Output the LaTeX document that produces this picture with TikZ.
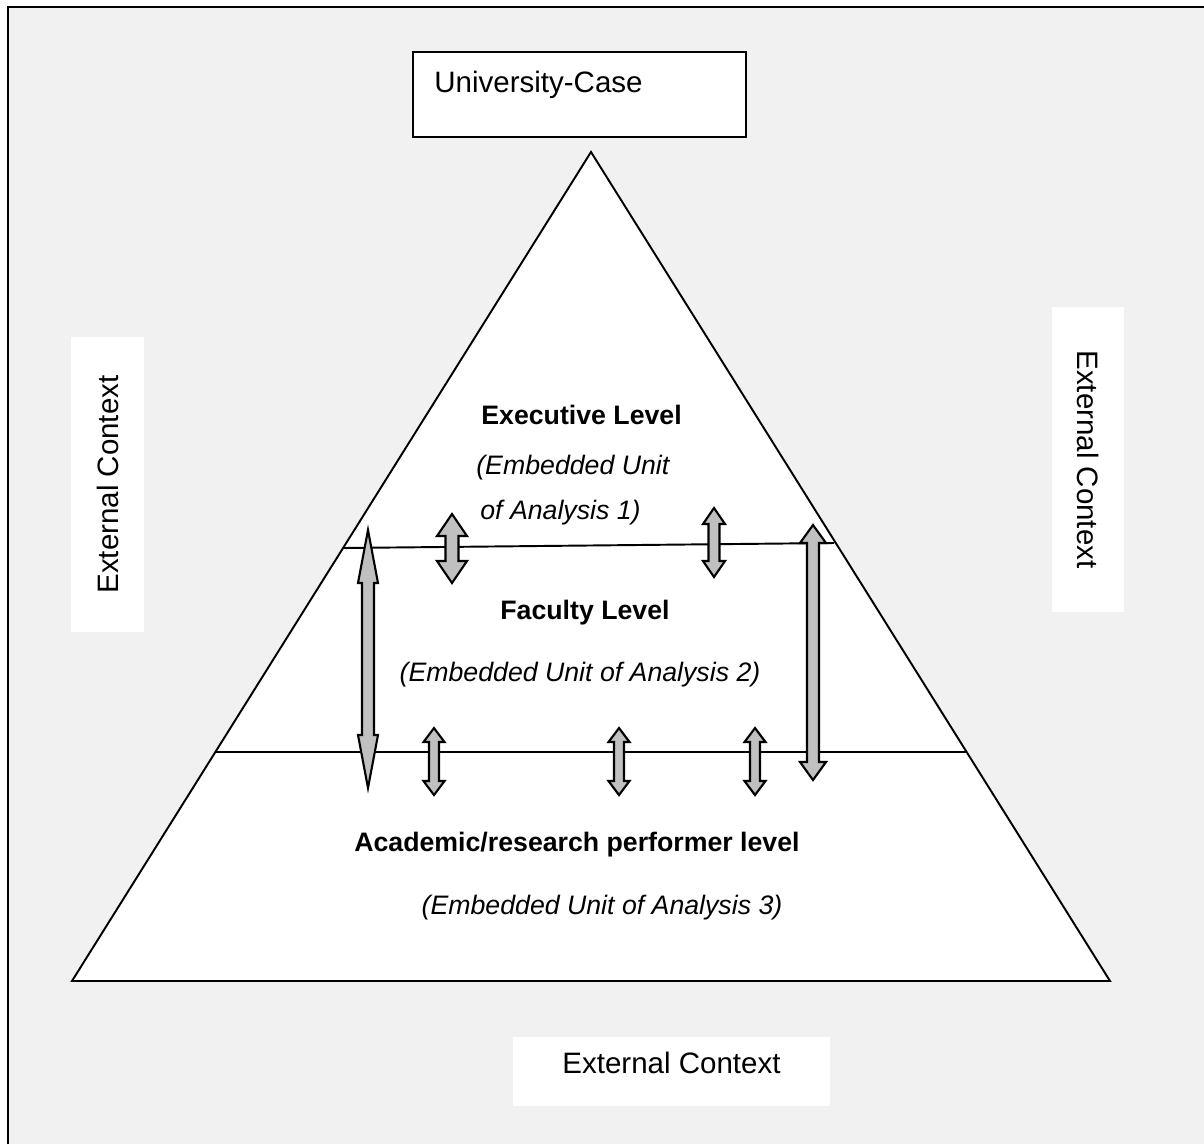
\documentclass[tikz,border=0pt]{standalone}
\usepackage{fontspec}
\setmainfont{Liberation Sans}
\usepackage{tikz}

\definecolor{pagegray}{HTML}{F1F1F1}
\definecolor{arrowgray}{HTML}{C0C0C0}

% two-way block arrow: x, top tip, bottom tip, half head width, head length, half shaft width
\newcommand{\twowayarrow}[6]{%
  \draw[blockarrow] (#1,#2) -- (#1+#4,#2+#5) -- (#1+#6,#2+#5) -- (#1+#6,#3-#5)
    -- (#1+#4,#3-#5) -- (#1,#3) -- (#1-#4,#3-#5) -- (#1-#6,#3-#5)
    -- (#1-#6,#2+#5) -- (#1-#4,#2+#5) -- cycle;}

\begin{document}
\begin{tikzpicture} [x=0.02cm, y=-0.02cm,
    level/.style = {font=\fontsize{15.2}{18}\selectfont\bfseries},
    unit/.style = {font=\fontsize{15.2}{18}\selectfont\itshape},
    context/.style = {fill=white,
      inner sep=0pt},
    plain/.style = {font=\fontsize{16.8}{20}\selectfont},
    blockarrow/.style = {draw, line width=1.2pt, fill=arrowgray, line join=miter},
    edge/.style = {draw, line width=1.1pt}]

\useasboundingbox (0,0) rectangle (1204,1144);
\fill[pagegray] (8,7) rectangle (1204,1144);
\draw[line width=1.2pt] (8,1144) -- (8,7) -- (1204,7);

% case box
\node (case) [draw, fill=white, line width=0.9pt, minimum width=6.66cm, minimum height=1.7cm] at (579.5,94.5) {};
\node (casetext) [plain, anchor=base west, inner sep=0pt] at (434,92) {University-Case};

% pyramid
\coordinate (apex) at (591,152);
\coordinate (bl) at (72,981);
\coordinate (br) at (1110,981);
\draw[edge, fill=white] (apex) -- (bl) -- (br) -- cycle;
\coordinate (upl) at (343,548);
\coordinate (upr) at (834,543);
\coordinate (lowl) at (215,752);
\coordinate (lowr) at (967,752);
\draw[edge] (upl) -- (upr);
\draw[edge] (lowl) -- (lowr);

% level texts
\node (exec) [level, anchor=base west, inner sep=0pt] at (481,424) {Executive Level};
\node (execu1) [unit, anchor=base west, inner sep=0pt] at (476,474) {(Embedded Unit};
\node (execu2) [unit, anchor=base west, inner sep=0pt] at (480,519) {of Analysis 1)};
\node (fac) [level, anchor=base, inner sep=0pt] at (585,619) {Faculty Level};
\node (facu) [unit, anchor=base, inner sep=0pt] at (580,681) {(Embedded Unit of Analysis 2)};
\node (acad) [level, anchor=base, inner sep=0pt] at (577,851) {Academic/research performer level};
\node (acadu) [unit, anchor=base, inner sep=0pt] at (602,914) {(Embedded Unit of Analysis 3)};

% arrows between levels
\twowayarrow{368}{530}{788}{10}{53}{6}
\twowayarrow{452}{514}{583}{15}{22}{6.5}
\twowayarrow{714}{508}{577}{11}{16}{5.5}
\twowayarrow{813}{525}{780}{13}{18}{6}
\twowayarrow{434}{728}{795}{10.5}{14}{5}
\twowayarrow{619}{728}{795}{10.5}{14}{5}
\twowayarrow{755}{728}{795}{10.5}{14}{5}

% external context
\node (ctxleft) [context, minimum width=1.46cm, minimum height=5.9cm] at (107.5,484.5) {};
\node (ctxlefttext) [plain, rotate=90] at (ctxleft) {External Context};
\node (ctxright) [context, minimum width=1.44cm, minimum height=6.1cm] at (1088,459.5) {};
\node (ctxrighttext) [plain, rotate=-90] at (ctxright) {External Context};
\node (ctxbottom) [context, minimum width=6.34cm, minimum height=1.38cm] at (671.5,1071.5) {};
\node (ctxbottomtext) [plain] at (671.5,1063) {External Context};

\end{tikzpicture}
\end{document}
